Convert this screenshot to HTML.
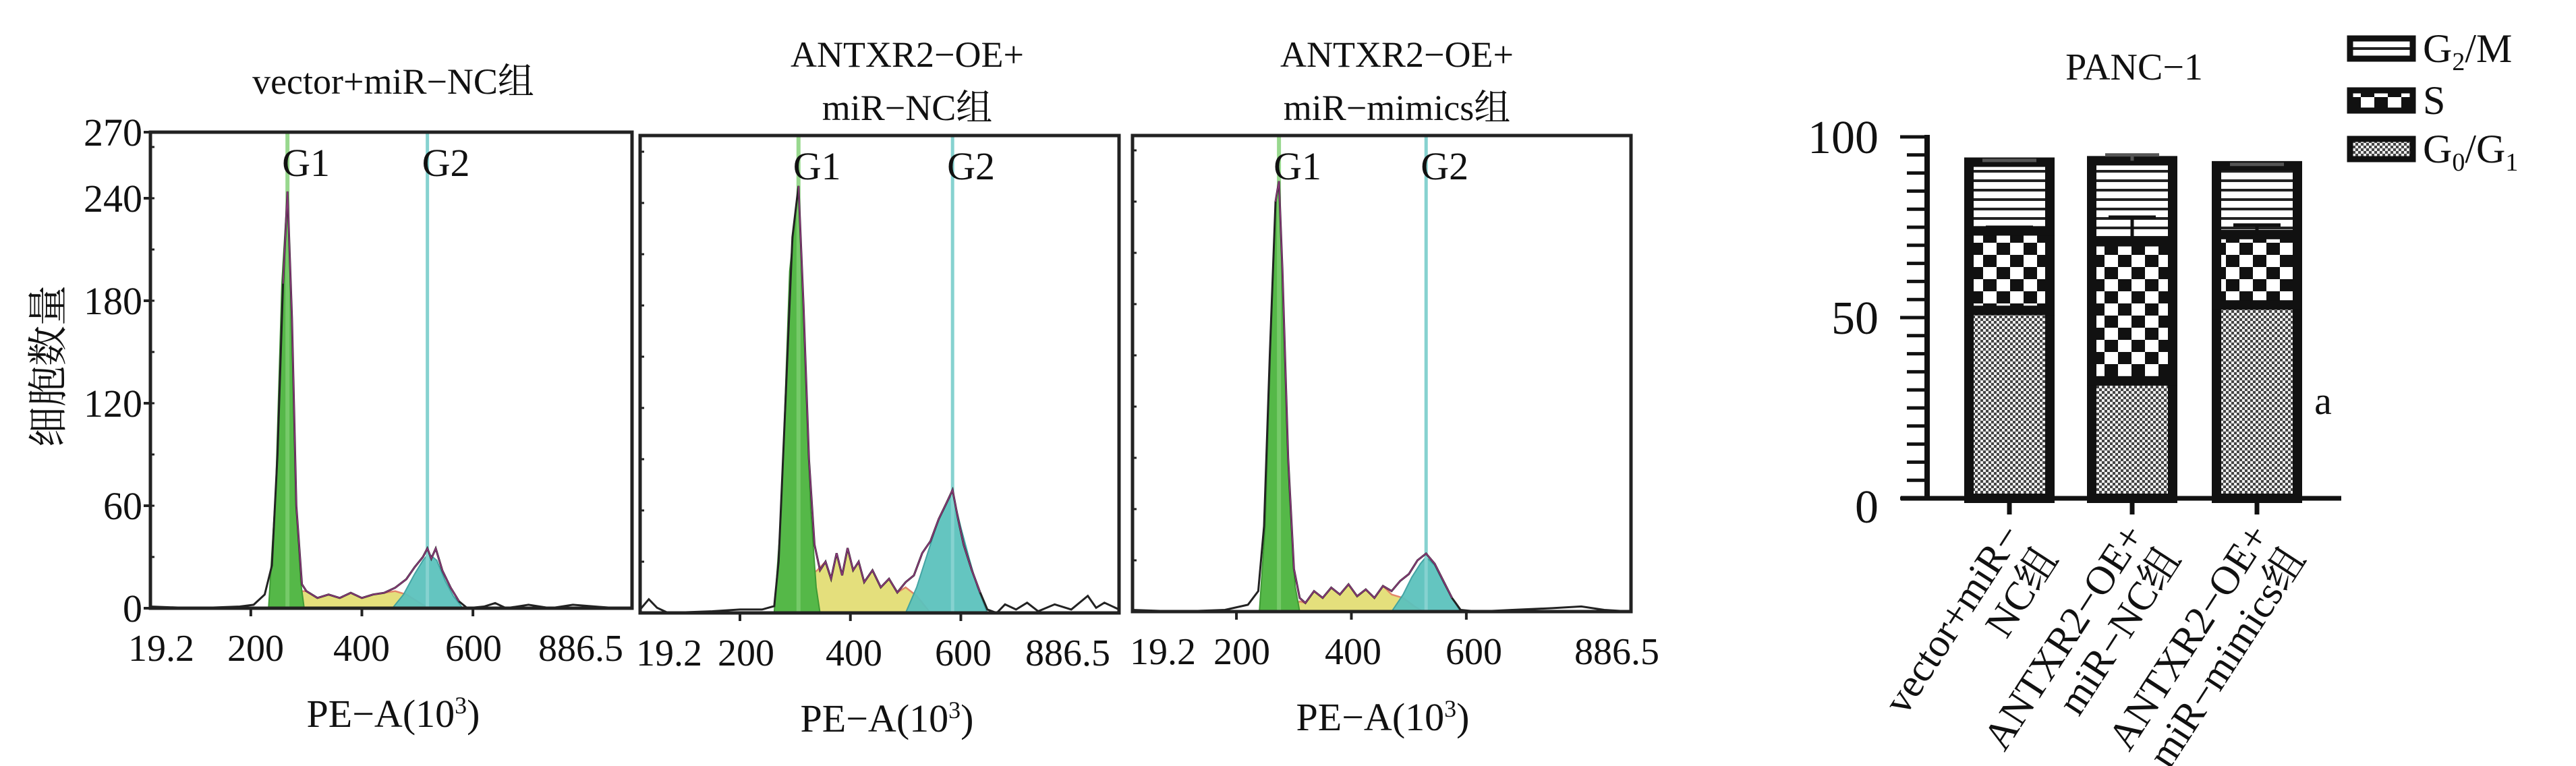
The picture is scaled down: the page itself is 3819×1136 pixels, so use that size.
<!DOCTYPE html>
<html><head><meta charset="utf-8"><style>
html,body{margin:0;padding:0;background:#fff;}
svg{display:block;}
text{font-family:"Liberation Serif","Noto Serif CJK SC","Noto Sans CJK SC",serif;fill:#111;}
</style></head><body>
<svg id="fig" width="3819" height="1136" viewBox="0 0 3819 1136" xmlns="http://www.w3.org/2000/svg">
<defs>
<pattern id="patG2" width="20" height="14" patternUnits="userSpaceOnUse"><rect width="20" height="14" fill="#fff"/><rect y="0" width="20" height="4" fill="#222"/></pattern>
<pattern id="patS" width="40" height="36" patternUnits="userSpaceOnUse"><rect width="40" height="36" fill="#fff"/><rect x="0" y="0" width="20" height="18" fill="#111"/><rect x="20" y="18" width="20" height="18" fill="#111"/></pattern>
<pattern id="patG1" width="8" height="8" patternUnits="userSpaceOnUse"><rect width="8" height="8" fill="#eee"/><rect x="0" y="0" width="4" height="4" fill="#444"/><rect x="4" y="4" width="4" height="4" fill="#444"/></pattern>
</defs>
<g id="hists"></g>
<g id="bars"></g>
</svg>
<script>
// ---------- histogram data (x in PE-A 10^3, y in cell count) ----------
const histTitles = [["vector+miR−NC组"],["ANTXR2−OE+","miR−NC组"],["ANTXR2−OE+","miR−mimics组"]];
const xTickValues = [200,400,600];
const xTickLabels = ["19.2","200","400","600","886.5"];
const yTickValues = [0,60,120,180,240,270];
const g1Pos = [266,306,274];
const g2Pos = [518,585,530];
const total1 = [[19.2,1],[100,0],[180,1],[205,2],[225,8],[238,25],[248,90],[258,190],[266,244],[274,170],[282,60],[292,14],[300,10],[320,6],[340,8],[360,6],[380,9],[400,6],[420,8],[440,9],[460,12],[480,17],[495,24],[510,30],[518,35],[525,29],[533,35],[545,22],[560,12],[575,4],[590,0],[620,1],[640,3],[660,0],[700,2],[740,0],[780,2],[820,1],[860,0],[886.5,0]];
const total2 = [[19.2,2],[35,8],[50,3],[70,0],[150,1],[200,2],[240,2],[262,4],[270,30],[282,120],[295,220],[306,250],[315,180],[325,90],[335,40],[345,25],[355,30],[365,20],[375,35],[385,22],[395,38],[405,25],[415,30],[425,18],[440,25],[455,15],[470,20],[485,12],[500,18],[515,22],[530,35],[545,42],[560,55],[575,65],[585,72],[595,55],[605,40],[620,25],[635,12],[648,2],[665,0],[680,5],[700,2],[720,6],[740,1],[770,5],[800,2],[830,10],[845,3],[860,6],[886.5,2]];
const total3 = [[19.2,1],[100,0],[180,1],[220,4],[238,12],[248,50],[258,150],[268,240],[274,252],[280,200],[290,90],[300,25],[310,8],[320,5],[335,12],[350,8],[365,14],[380,10],[395,16],[410,9],[425,13],[440,8],[455,15],[470,12],[485,18],[500,22],[515,30],[530,34],[545,28],[560,18],[575,8],[590,1],[620,0],[680,1],[750,2],[800,3],[840,1],[886.5,0]];
const g1Fill1 = [[232,0],[245,70],[256,190],[266,244],[274,165],[282,60],[290,15],[296,0]];
const g1Fill2 = [[262,0],[275,60],[290,200],[306,250],[316,170],[328,60],[338,15],[345,0]];
const g1Fill3 = [[240,0],[250,50],[260,160],[268,240],[274,252],[282,180],[292,70],[302,15],[310,0]];
const sFill1 = [[270,0],[280,10],[300,10],[320,6],[340,8],[360,6],[380,9],[400,6],[420,8],[440,9],[460,10],[480,8],[500,4],[520,0]];
const sFill2 = [[300,0],[320,20],[340,25],[355,30],[365,20],[375,35],[385,22],[395,38],[405,25],[415,30],[425,18],[440,25],[455,15],[470,20],[485,12],[500,15],[520,10],[545,0]];
const sFill3 = [[290,0],[310,6],[320,5],[335,12],[350,8],[365,14],[380,10],[395,16],[410,9],[425,13],[440,8],[455,15],[470,10],[490,8],[510,3],[525,0]];
const g2Fill1 = [[455,0],[475,8],[495,20],[510,28],[520,32],[535,28],[550,16],[565,7],[582,0]];
const g2Fill2 = [[500,0],[520,15],[540,35],[560,55],[575,65],[585,70],[600,50],[615,32],[630,15],[648,0]];
const g2Fill3 = [[470,0],[490,10],[505,20],[520,28],[530,32],[545,27],[560,17],[575,8],[590,0]];
const totals = [total1,total2,total3];
const g1Fills = [g1Fill1,g1Fill2,g1Fill3];
const sFills = [sFill1,sFill2,sFill3];
const g2Fills = [g2Fill1,g2Fill2,g2Fill3];

// ---------- bar chart data ----------
const barCategories = [["vector+miR−","NC组"],["ANTXR2−OE+","miR−NC组"],["ANTXR2−OE+","miR−mimics组"]];
const g0g1Values = [52,32.5,53.5];
const sValues = [22,38.5,19.5];
const g2mValues = [19,22.4,19];
const sErr = [1,6.8,2.6];
const totalErr = [0.5,1.6,0.4];
const barYTicks = [0,50,100];

const NS="http://www.w3.org/2000/svg";
function mk(tag, parent, attrs){const e=document.createElementNS(NS,tag);for(const k in attrs)e.setAttribute(k,attrs[k]);parent.appendChild(e);return e;}

const panels=[
 {L:223,R:937,T:196,B:902,cx:583,titleY:[120],labX:[239,379,536,702,861]},
 {L:949,R:1659,T:201,B:909,cx:1315,titleY:[80,159],labX:[992,1106,1266,1428,1583]},
 {L:1679,R:2418,T:201,B:907,cx:2050,titleY:[80,159],labX:[1724,1841,2006,2185,2397]}
];
const titleCx=[583,1345,2071];
const hg=document.getElementById('hists');
panels.forEach((p,i)=>{
  const g=mk('g',hg,{});
  
  
  const xs=v=>p.L+(v-19.2)/(886.5-19.2)*(p.R-p.L);
  const ys=v=>p.B-v/60*152;
  const pathOf=(arr,close)=>{let d='M'+arr.map(q=>xs(q[0]).toFixed(1)+','+ys(q[1]).toFixed(1)).join('L');if(close)d+='Z';return d;};
  const s=mk('path',g,{d:pathOf(sFills[i],true),fill:'#e2dc6e',stroke:'#e07a5a','stroke-width':2.5,opacity:0.9});
  
  
  const a=mk('path',g,{d:pathOf(g1Fills[i],true),fill:'#55b848',stroke:'#3f9a35','stroke-width':2});
  
  
  const b=mk('path',g,{d:pathOf(g2Fills[i],true),fill:'#5cc2bd',stroke:'#3aa0a0','stroke-width':2,opacity:0.95});
  
  
  const l1=mk('line',g,{x1:xs(g1Pos[i]),x2:xs(g1Pos[i]),y1:p.T,y2:p.B,stroke:'#7fcf72','stroke-width':6,opacity:0.8});
  
  
  const l2=mk('line',g,{x1:xs(g2Pos[i]),x2:xs(g2Pos[i]),y1:p.T,y2:p.B,stroke:'#86d2d0','stroke-width':5});
  
  
  const t=mk('path',g,{d:pathOf(totals[i],false),fill:'none',stroke:'#222','stroke-width':3});
  
  
  const t2=mk('path',g,{d:pathOf(totals[i].filter(q=>q[0]>g1Pos[i]-10&&q[0]<g2Pos[i]+60),false),fill:'none',stroke:'#b0409a','stroke-width':2,opacity:0.7});
  
  
  const fr=mk('rect',g,{x:p.L,y:p.T,width:p.R-p.L,height:p.B-p.T,fill:'none',stroke:'#222','stroke-width':5});
  
  
  for(let v=0;v<=270;v+=30){const tk=mk('line',g,{x1:p.L,x2:p.L+6,y1:ys(v),y2:ys(v),stroke:'#222','stroke-width':3});
    }
  if(i===0){
    yTickValues.forEach(v=>{const y=v===270?p.T:ys(v);
      const lt=mk('line',g,{x1:p.L-10,x2:p.L,y1:y,y2:y,stroke:'#222','stroke-width':4});
      
      const tx=mk('text',g,{x:p.L-12,y:y+20,'text-anchor':'end','font-size':58});tx.textContent=v;
      });
    const yl=mk('text',g,{x:0,y:0,'text-anchor':'middle','font-size':60,transform:'translate(92,543) rotate(-90)'});
    yl.textContent='细胞数量';
    
  }
  xTickValues.forEach(v=>{const tk=mk('line',g,{x1:xs(v),x2:xs(v),y1:p.B,y2:p.B+12,stroke:'#222','stroke-width':4});
    });
  xTickLabels.forEach((lab,k)=>{const tx=mk('text',g,{x:p.labX[k],y:p.B+78,'text-anchor':'middle','font-size':56});tx.textContent=lab;
    });
  const xl=mk('text',g,{x:p.cx,y:p.B+176,'text-anchor':'middle','font-size':58});
  xl.innerHTML='PE−A(10<tspan dy="-20" font-size="36">3</tspan><tspan dy="20">)</tspan>';
  
  histTitles[i].forEach((line,k)=>{const tx=mk('text',g,{x:titleCx[i],y:p.titleY[k]+19,'text-anchor':'middle','font-size':54});tx.textContent=line;
    });
  [['G1',g1Pos[i]],['G2',g2Pos[i]]].forEach(([lab,v])=>{const tx=mk('text',g,{x:xs(v)-8,y:p.T+65,'font-size':58});tx.textContent=lab;
    });
});

// ---------- bar chart ----------
const bg=document.getElementById('bars');
const AX=2857, Y0=739, Y100=203;
const by=v=>Y0-v/100*(Y0-Y100);
const barCenters=[2979,3161,3346];
const BW=120;
for(let v=0;v<=100;v+=5){const tk=mk('line',bg,{x1:AX-(v%50===0?40:30),x2:AX,y1:by(v),y2:by(v),stroke:'#111','stroke-width':5});
  }
barYTicks.forEach(v=>{const tx=mk('text',bg,{x:2785,y:by(v)+24+(v===0?12:0),'text-anchor':'end','font-size':70});tx.textContent=v;
  });
barCategories.forEach((cat,i)=>{
  const cx=barCenters[i], x=cx-BW/2;
  const g=mk('g',bg,{});
  
  
  const segs=[[0,g0g1Values[i],'url(#patG1)','g0g1'],[g0g1Values[i],sValues[i],'url(#patS)','s'],[g0g1Values[i]+sValues[i],g2mValues[i],'url(#patG2)','g2m']];
  segs.forEach(([base,h,f,nm])=>{const r=mk('rect',g,{x:x,y:by(base+h),width:BW,height:by(base)-by(base+h),fill:f,stroke:'#111','stroke-width':14});
    });
  const sTop=g0g1Values[i]+sValues[i], tot=sTop+g2mValues[i];
  const e1=mk('path',g,{d:`M${cx},${by(sTop)}V${by(sTop+sErr[i])}M${cx-35},${by(sTop+sErr[i])}H${cx+35}`,stroke:'#111','stroke-width':5,fill:'none'});
  
  const e2=mk('path',g,{d:`M${cx},${by(tot)}V${by(tot+totalErr[i])}M${cx-40},${by(tot+totalErr[i])}H${cx+40}`,stroke:'#555','stroke-width':5,fill:'none'});
  
  const xt=mk('line',g,{x1:cx,x2:cx,y1:Y0,y2:Y0+24,stroke:'#111','stroke-width':7});
  
  const tx=mk('text',g,{x:0,y:0,'text-anchor':'end','font-size':60,transform:`translate(${cx+20},${Y0+55}) rotate(-57)`});
  tx.innerHTML=`<tspan x="0" dy="0">${cat[0]}</tspan><tspan x="0" dy="64">${cat[1]}</tspan>`;
  
});
const yax=mk('line',bg,{x1:AX,x2:AX,y1:Y100-3,y2:Y0+3,stroke:'#111','stroke-width':8});

const xax=mk('line',bg,{x1:2818,x2:3471,y1:Y0,y2:Y0,stroke:'#111','stroke-width':7});

const bt=mk('text',bg,{x:3164,y:118,'text-anchor':'middle','font-size':56});bt.textContent='PANC−1';

const aa=mk('text',bg,{x:3444,y:614,'text-anchor':'middle','font-size':58});aa.textContent='a';

const legend=[['url(#patG2)',72,'G<tspan dy="12" font-size="38">2</tspan><tspan dy="-12">/M</tspan>'],['url(#patS)',149,'S'],['url(#patG1)',221,'G<tspan dy="12" font-size="38">0</tspan><tspan dy="-12">/G</tspan><tspan dy="12" font-size="38">1</tspan>']];
legend.forEach(([f,y,lab])=>{const g=mk('g',bg,{});
  
  mk('rect',g,{x:3484,y:y-15,width:93,height:30,fill:f,stroke:'#111','stroke-width':9});
  const tx=mk('text',g,{x:3592,y:y+20,'font-size':60});tx.innerHTML=lab;
  });
</script>
</body></html>
